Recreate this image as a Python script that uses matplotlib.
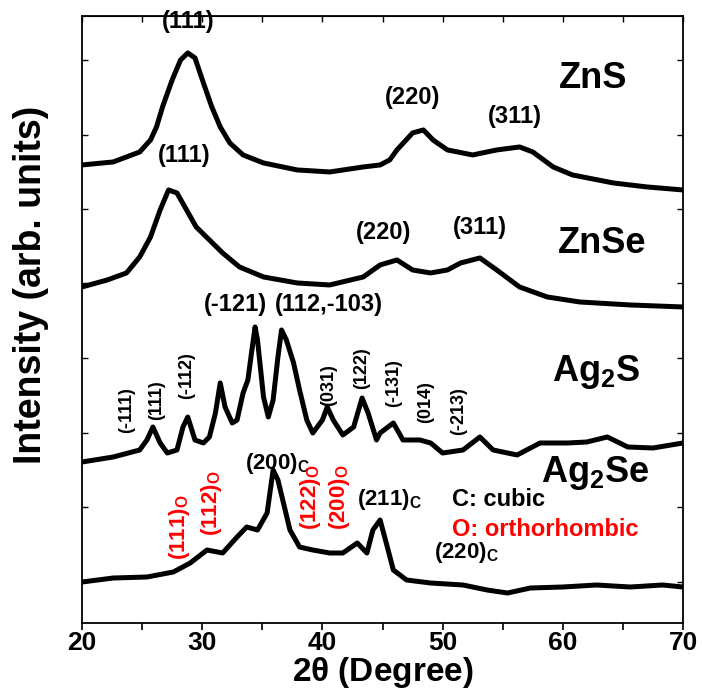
import matplotlib
matplotlib.use("Agg")
import matplotlib.pyplot as plt

plt.rcParams['font.family'] = ['Liberation Sans', 'DejaVu Sans']
plt.rcParams['font.weight'] = 'bold'
plt.rcParams['mathtext.fontset'] = 'custom'
plt.rcParams['mathtext.rm'] = 'Liberation Sans:bold'
plt.rcParams['mathtext.it'] = 'Liberation Sans:bold'
plt.rcParams['mathtext.bf'] = 'Liberation Sans:bold'

# --- XRD patterns (2theta in degrees, stacked intensity in arb. units) ---
zns_2t = [20.0, 22.6, 24.8, 25.7, 26.2, 26.7, 27.5, 28.2, 28.8, 29.4, 30.1, 30.8,
          31.5, 32.3, 33.4, 35.1, 37.9, 40.6, 43.4, 44.8, 45.6, 46.2, 47.5, 48.4,
          49.2, 50.4, 52.5, 54.5, 56.4, 57.5, 59.2, 60.8, 64.2, 67.0, 70.0]
zns_int = [458, 461, 471, 483, 496, 516, 543, 563, 570, 565, 540, 516,
           496, 480, 468, 460, 453, 451, 456, 458, 463, 473, 490, 493,
           483, 473, 468, 473, 476, 471, 456, 448, 440, 436, 433]

znse_2t = [20.0, 22.1, 23.7, 24.8, 25.7, 26.5, 27.2, 27.9, 28.7, 29.5, 30.6, 31.7,
           33.1, 35.1, 37.9, 40.6, 43.4, 44.8, 46.2, 47.5, 49.0, 50.4, 51.5, 53.1,
           54.5, 56.4, 58.7, 61.4, 65.6, 70.0]
znse_int = [336, 343, 350, 366, 386, 413, 433, 430, 413, 396, 383, 370,
            356, 346, 340, 338, 346, 358, 363, 353, 350, 353, 360, 365,
            353, 336, 326, 321, 318, 316]

ag2s_2t = [20.0, 22.6, 24.8, 25.4, 25.9, 26.5, 27.1, 27.9, 28.4, 28.8, 29.4, 30.1,
           30.6, 31.1, 31.5, 31.9, 32.5, 32.9, 33.4, 33.8, 34.1, 34.4, 34.6, 35.1,
           35.5, 35.9, 36.3, 36.6, 37.0, 37.6, 38.1, 38.7, 39.2, 40.0, 40.4, 40.9,
           41.7, 42.6, 43.3, 43.8, 44.5, 44.8, 45.9, 46.7, 48.1, 49.0, 50.0, 51.7,
           53.1, 54.2, 56.2, 58.1, 60.4, 62.0, 63.7, 65.4, 67.5, 70.0]
ag2s_int = [161, 166, 173, 183, 196, 180, 170, 173, 196, 206, 183, 180,
            186, 210, 240, 216, 200, 203, 230, 243, 270, 296, 283, 226,
            206, 223, 266, 293, 283, 260, 233, 203, 190, 203, 216, 203,
            188, 196, 225, 210, 183, 190, 200, 183, 183, 180, 170, 173,
            186, 173, 168, 180, 180, 181, 186, 176, 175, 180]

ag2se_2t = [20.0, 22.6, 25.4, 27.6, 29.0, 30.4, 31.7, 32.9, 33.7, 34.6, 35.4, 35.9,
            36.3, 36.7, 37.3, 38.1, 39.2, 40.6, 41.7, 42.9, 43.7, 44.2, 44.8, 45.4,
            45.9, 47.0, 49.0, 51.7, 53.7, 55.4, 57.3, 60.0, 62.8, 65.6, 68.3, 70.0]
ag2se_int = [41, 45, 46, 51, 60, 73, 70, 86, 96, 93, 110, 153,
             143, 123, 93, 76, 73, 70, 70, 80, 70, 93, 103, 76,
             53, 43, 40, 38, 33, 30, 35, 36, 38, 36, 38, 36]

fig = plt.figure(figsize=(7.02, 6.93), dpi=100)
ax = fig.add_axes([0.1168, 0.101, 0.8562, 0.876])

for xs, ys in [(zns_2t, zns_int), (znse_2t, znse_int),
               (ag2s_2t, ag2s_int), (ag2se_2t, ag2se_int)]:
    ax.plot(xs, ys, color='black', lw=3.6, solid_joinstyle='round')

ax.set_xlim(20, 70)
ax.set_ylim(0, 607)
ax.set_xticks([20, 30, 40, 50, 60, 70])
ax.set_xticks([25, 35, 45, 55, 65], minor=True)
ax.set_yticks([41, 116, 190, 265, 340, 414, 488, 563])
ax.set_yticklabels([])
ax.tick_params(axis='x', which='both', direction='out', length=5, width=1.2,
               labelsize=19, pad=1)
ax.tick_params(axis='y', which='both', direction='in', length=4, width=1.0,
               left=True, right=True)
top = ax.secondary_xaxis('top')
top.set_xticks([20, 25, 30, 35, 40, 45, 50, 55, 60, 65, 70])
top.set_xticklabels([])
top.tick_params(direction='in', length=4, width=1.0)
for s in ax.spines.values():
    s.set_linewidth(1.3)
for lab in ax.get_xticklabels():
    lab.set_fontweight('bold')

ax.set_xlabel(r'2$\theta$ (Degree)', fontsize=24, fontweight='bold', labelpad=0)
ax.set_ylabel('Intensity (arb. units)', fontsize=27, fontweight='bold')
ax.yaxis.set_label_coords(-0.055, 0.557)

# peak indices, horizontal
hkl = [('(111)', 28.8, 601), ('(220)', 47.5, 525), ('(311)', 56.0, 506),
       ('(111)', 28.5, 467), ('(220)', 45.1, 390), ('(311)', 53.1, 395),
       ('(-121)', 32.8, 318), ('(112,-103)', 40.5, 318)]
for t, x, y in hkl:
    ax.text(x, y, t, fontsize=17, fontweight='bold', ha='center', va='center')

# Ag2S indices, vertical
for t, x, y in [('(-111)', 23.7, 213), ('(111)', 26.2, 223), ('(-112)', 28.7, 247),
                ('(031)', 40.5, 238), ('(122)', 43.3, 255), ('(-131)', 45.9, 240),
                ('(014)', 48.6, 221), ('(-213)', 51.3, 212)]:
    ax.text(x, y, t, fontsize=13, fontweight='bold', rotation=90,
            ha='center', va='center')

# sample names
for t, x, y in [('ZnS', 62.5, 544), ('ZnSe', 63.3, 379),
                (r'Ag$_2$S', 62.8, 251), (r'Ag$_2$Se', 62.7, 150)]:
    ax.text(x, y, t, fontsize=26, fontweight='bold', ha='center', va='center')

# Ag2Se phases
for t, x, y in [(r'(200)$_\mathrm{C}$', 36.3, 159), (r'(211)$_\mathrm{C}$', 45.6, 123),
                (r'(220)$_\mathrm{C}$', 52.0, 70)]:
    ax.text(x, y, t, fontsize=16, fontweight='bold', ha='center', va='center')
for t, x, y in [(r'(111)$_\mathrm{O}$', 28.1, 96), (r'(112)$_\mathrm{O}$', 30.8, 120),
                (r'(122)$_\mathrm{O}$', 39.0, 126), (r'(200)$_\mathrm{O}$', 41.4, 126)]:
    ax.text(x, y, t, fontsize=16, fontweight='bold', color='red', rotation=90,
            ha='center', va='center')
ax.text(50.8, 123, 'C: cubic', fontsize=17, fontweight='bold', ha='left', va='center')
ax.text(50.8, 93, 'O: orthorhombic', fontsize=17, fontweight='bold', color='red',
        ha='left', va='center')

fig.savefig('out.png', dpi=100)
